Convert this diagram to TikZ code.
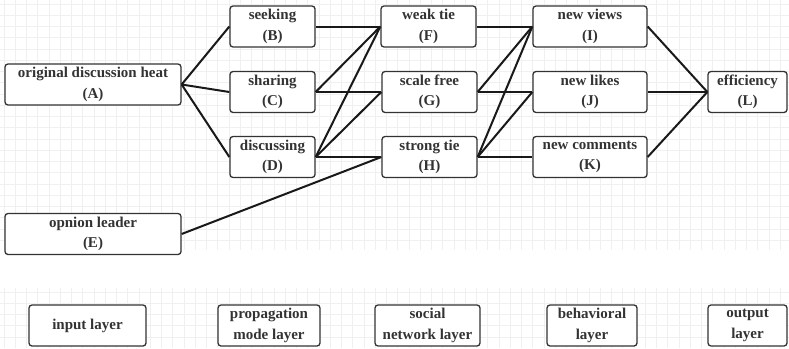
\documentclass[tikz,border=0pt]{standalone}
\usepackage{fontspec}
\setmainfont{Liberation Serif}
\begin{document}
\begin{tikzpicture}[x=1pt,y=-1pt,
  box/.style={draw=black!80, line width=1.3pt, rounded corners=3pt, fill=white,
    minimum height=41pt, inner sep=0pt, align=center, text=black!80,
    font=\fontsize{15}{20.5}\selectfont\bfseries},
  lbl/.style={yshift=-1.5pt},
  link/.style={line width=2pt, black!90},
  gridline/.style={draw=black!6, line width=0.6pt}]
\useasboundingbox (0,0) rectangle (789,348);
\fill[white] (0,0) rectangle (789,348);
% faint background grid
\foreach \x in {4,15.25,...,789} {
  \draw[gridline] (\x,0) -- (\x,250);
  \draw[gridline] (\x,288) -- (\x,348);
}
\foreach \y in {4,15.25,...,250} \draw[gridline] (0,\y) -- (789,\y);
\foreach \y in {292,303.25,...,348} \draw[gridline] (0,\y) -- (789,\y);

% nodes
\node[box, minimum width=176pt] (A) at (93,84.5) {original discussion heat\\(A)};
\node[box, minimum width=85pt] (B) at (272.5,26.5) {seeking\\(B)};
\node[box, minimum width=85pt] (C) at (272.5,92) {sharing\\(C)};
\node[box, minimum width=85pt] (D) at (272.5,157) {discussing\\(D)};
\node[box, minimum width=176pt] (E) at (93,234) {opnion leader\\(E)};
\node[box, minimum width=95pt] (F) at (428.5,26.5) {weak tie\\(F)};
\node[box, minimum width=95pt] (G) at (429.5,92) {scale free\\(G)};
\node[box, minimum width=95pt] (H) at (429.5,157) {strong tie\\(H)};
\node[box, minimum width=114pt] (I) at (590,26.5) {new views\\(I)};
\node[box, minimum width=114pt] (J) at (590,92) {new likes\\(J)};
\node[box, minimum width=114pt] (K) at (590,157) {new comments\\(K)};
\node[box, minimum width=79pt] (L) at (747.5,92) {efficiency\\(L)};

\node[box, minimum width=117pt] (in) at (87.5,325.5) {input layer};
\node[box, minimum width=102pt] (pm) at (269,325.5) {propagation\\mode layer};
\node[box, minimum width=105pt] (sn) at (427.5,325.5) {social\\network layer};
\node[box, minimum width=90pt] (bh) at (592,325.5) {behavioral\\layer};
\node[box, minimum width=79pt] (out) at (747.5,325.5) {output\\layer};

% connectors
\draw[link] (A.east) -- (B.west);
\draw[link] (A.east) -- (C.west);
\draw[link] (A.east) -- (D.west);
\draw[link] (B.east) -- (F.west);
\draw[link] (C.east) -- (F.west);
\draw[link] (C.east) -- (G.west);
\draw[link] (D.east) -- (F.west);
\draw[link] (D.east) -- (G.west);
\draw[link] (D.east) -- (H.west);
\draw[link] (E.east) -- (H.west);
\draw[link] (F.east) -- (I.west);
\draw[link] (G.east) -- (I.west);
\draw[link] (G.east) -- (J.west);
\draw[link] (H.east) -- (I.west);
\draw[link] (H.east) -- (J.west);
\draw[link] (H.east) -- (K.west);
\draw[link] (I.east) -- (L.west);
\draw[link] (J.east) -- (L.west);
\draw[link] (K.east) -- (L.west);
\end{tikzpicture}
\end{document}
